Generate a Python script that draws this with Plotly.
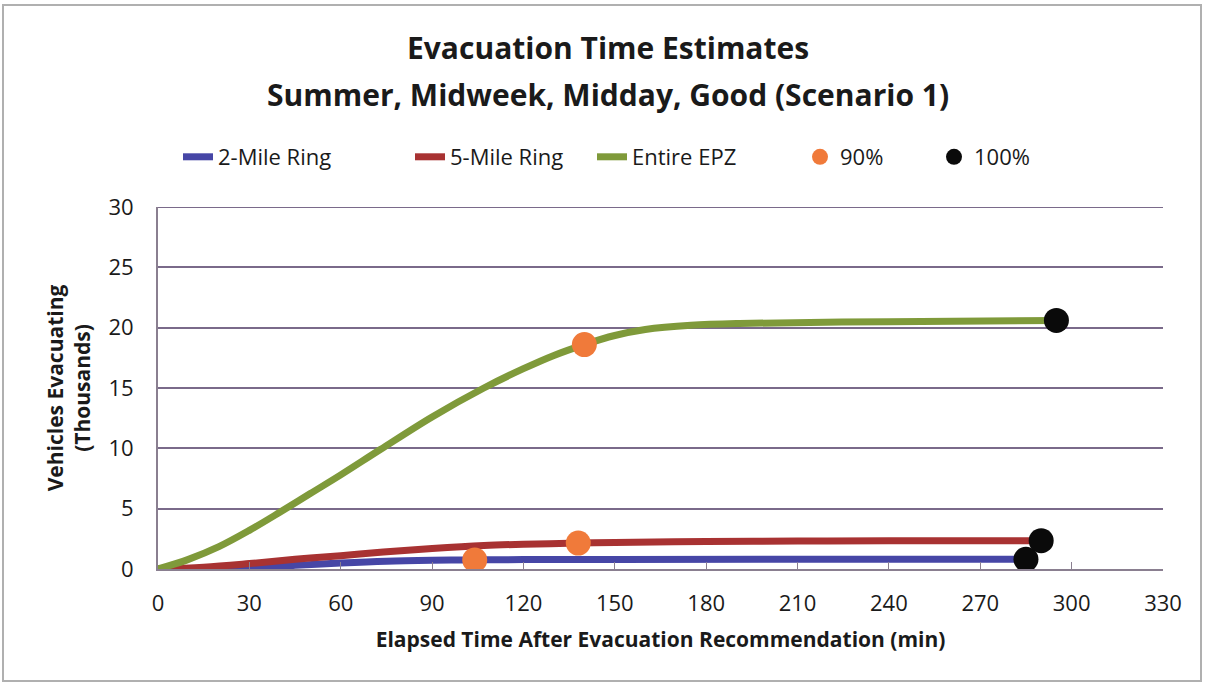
import plotly.graph_objects as go

# Data (elapsed minutes, vehicles in thousands)
t_epz = [0, 10, 20, 30, 40, 50, 60, 73, 90, 107, 120, 130, 140, 150, 160, 175, 191, 240, 295]
v_epz = [0, 0.8, 1.85, 3.2, 4.7, 6.25, 7.8, 9.9, 12.6, 15.0, 16.6, 17.7, 18.6, 19.35, 19.85, 20.2, 20.35, 20.5, 20.6]

t_5 = [0, 15, 30, 45, 60, 74, 90, 107, 120, 138, 150, 180, 210, 240, 290]
v_5 = [0, 0.15, 0.45, 0.8, 1.1, 1.4, 1.7, 1.95, 2.05, 2.15, 2.2, 2.28, 2.32, 2.34, 2.35]

t_2 = [0, 20, 30, 45, 60, 75, 90, 104, 120, 150, 200, 285]
v_2 = [0, 0.0, 0.05, 0.3, 0.5, 0.65, 0.72, 0.75, 0.78, 0.79, 0.8, 0.8]

p90_t = [104, 138, 140]
p90_v = [0.75, 2.15, 18.6]
p100_t = [285, 290, 295]
p100_v = [0.8, 2.35, 20.6]

title_lines = ["Evacuation Time Estimates", "Summer, Midweek, Midday, Good (Scenario 1)"]

font = "Open Sans"
txt = "#1a1a1a"

L, R, T, B = 158, 42, 207, 116
W, H = 1205, 685
pw, ph = W - L - R, H - T - B

def px(x):
    return (x - L) / pw

def py(y):
    return (H - B - y) / ph

fig = go.Figure()
fig.add_trace(go.Scatter(x=t_2, y=v_2, mode="lines", name="2-Mile Ring", legend="legend",
                         line=dict(color="#4646A6", width=7, shape="spline", smoothing=1.0)))
fig.add_trace(go.Scatter(x=t_5, y=v_5, mode="lines", name="5-Mile Ring", legend="legend2",
                         line=dict(color="#A83232", width=7, shape="spline", smoothing=1.0)))
fig.add_trace(go.Scatter(x=t_epz, y=v_epz, mode="lines", name="Entire EPZ", legend="legend3",
                         line=dict(color="#7F9A3A", width=7, shape="spline", smoothing=1.0)))
fig.add_trace(go.Scatter(x=p90_t, y=p90_v, mode="markers", name="90%", legend="legend4",
                         marker=dict(color="#F07A3A", size=25)))
fig.add_trace(go.Scatter(x=p100_t, y=p100_v, mode="markers", name="100%", legend="legend5",
                         marker=dict(color="#0A0A0A", size=25)))

def leg(xpix):
    return dict(orientation="h", x=px(xpix), xanchor="left", y=py(157), yanchor="middle",
                font=dict(family=font, size=22, color=txt), bgcolor="rgba(0,0,0,0)",
                itemwidth=30)

fig.update_layout(
    width=W, height=H,
    margin=dict(l=L, r=R, t=T, b=B),
    paper_bgcolor="white", plot_bgcolor="white",
    font=dict(family=font, size=21, color=txt),
    legend=leg(178), legend2=leg(410), legend3=leg(592), legend4=leg(800), legend5=leg(934),
    showlegend=True,
    xaxis=dict(range=[0, 330], dtick=30, tick0=0, showgrid=False,
               showline=True, linecolor="#8a7f90", linewidth=2,
               ticks="inside", ticklen=7, tickcolor="#8a7f90",
               ticklabelstandoff=14,
               title=dict(text="<b>Elapsed Time After Evacuation Recommendation (min)</b>",
                          font=dict(family=font, size=21), standoff=16),
               zeroline=False, tickfont=dict(size=22)),
    yaxis=dict(range=[0, 30], dtick=5, showgrid=True, gridcolor="#7a6a8a", gridwidth=2,
               showline=True, linecolor="#8a7f90", linewidth=2, zeroline=False,
               ticks="", ticklabelstandoff=18,
               title=dict(text="<b>Vehicles Evacuating<br>(Thousands)</b>",
                          font=dict(family=font, size=21), standoff=12),
               tickfont=dict(size=22)),
)

# title lines
for txt_line, yc in zip(title_lines, [48, 95]):
    fig.add_annotation(text="<b>" + txt_line + "</b>", xref="paper", yref="paper",
                       x=px(608), y=py(yc), xanchor="center", yanchor="middle",
                       showarrow=False, font=dict(family=font, size=30, color=txt))

# top gridline at 30 (range edge)
fig.add_shape(type="line", xref="x", yref="y", x0=0, x1=330, y0=30, y1=30,
              line=dict(color="#7a6a8a", width=2), layer="below")

# outer chart border
fig.add_shape(type="rect", xref="paper", yref="paper",
              x0=px(3), x1=px(1201), y0=py(681), y1=py(5),
              line=dict(color="#b0b0b0", width=2), layer="below")

fig.write_html("out.html", config={"displayModeBar": False},
               post_script="document.body.style.margin='0';")
